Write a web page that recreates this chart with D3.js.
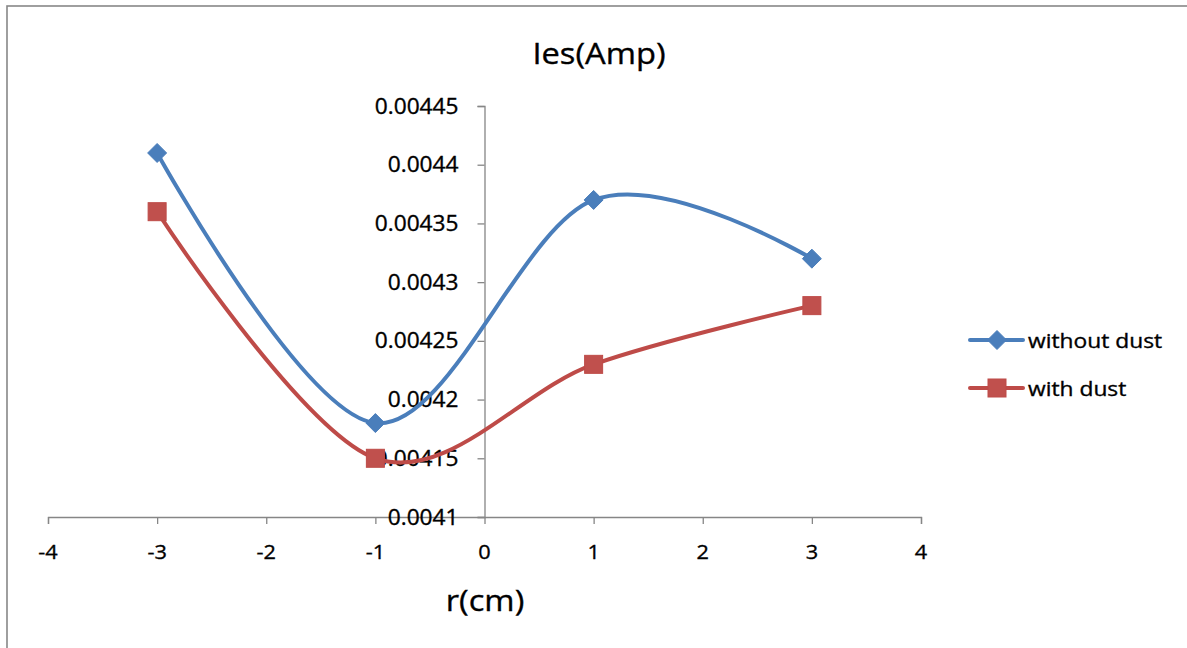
<!DOCTYPE html>
<html>
<head>
<meta charset="utf-8">
<script src="https://cdn.jsdelivr.net/npm/d3@7/dist/d3.min.js"></script>
<style>
  html, body { margin: 0; padding: 0; background: #fff; }
  svg { display: block; }
  text { font-family: "Open Sans", sans-serif; fill: #000; stroke: #000; stroke-width: 0.35px; }
</style>
</head>
<body>
<svg id="chart" width="1187" height="648"></svg>
<script>
// ---- data ----
const xValues = [-3, -1, 1, 3];
const withoutDust = [0.00441, 0.00418, 0.00437, 0.00432];
const withDust = [0.00436, 0.00415, 0.00423, 0.00428];
const seriesNames = ["without dust", "with dust"];
const xTicks = [-4, -3, -2, -1, 0, 1, 2, 3, 4];
const yTicks = [0.0041, 0.00415, 0.0042, 0.00425, 0.0043, 0.00435, 0.0044, 0.00445];
const yTickLabels = ["0.0041", "0.00415", "0.0042", "0.00425", "0.0043", "0.00435", "0.0044", "0.00445"];
const chartTitle = "Ies(Amp)";
const xTitle = "r(cm)";

// ---- layout ----
const svg = d3.select("#chart");
const x = d3.scaleLinear().domain([-4, 4]).range([48, 921]);
const y = d3.scaleLinear().domain([0.0041, 0.00445]).range([517, 106]);
const axisColor = "#868686";
const colors = { line: ["#4A7EBB", "#BE4B48"], fill: ["#4A7EBB", "#C0504D"] };

// outer border (left and top visible)
svg.append("rect").attr("x", 7).attr("y", 6).attr("width", 1300).attr("height", 800)
  .attr("fill", "none").attr("stroke", "#878787").attr("stroke-width", 1.6);

function stretchedText(g, tx, ty, str, size, sx, anchor) {
  return g.append("text")
    .attr("transform", `translate(${tx},${ty}) scale(${sx},1)`)
    .attr("text-anchor", anchor || "middle")
    .style("font-size", size + "px")
    .text(str);
}

// X axis at y = 0.0041
const xAxisG = svg.append("g").attr("transform", `translate(0,${y(0.0041)})`)
  .call(d3.axisBottom(x).tickValues(xTicks).tickSize(7).tickFormat(""));
// Y axis at x = 0
const yAxisG = svg.append("g").attr("transform", `translate(${x(0)},0)`)
  .call(d3.axisLeft(y).tickValues(yTicks).tickSize(7).tickFormat(""));
[xAxisG, yAxisG].forEach(g => {
  g.select(".domain").attr("stroke", axisColor).attr("stroke-width", 1.3);
  g.selectAll(".tick line").attr("stroke", axisColor).attr("stroke-width", 1.3);
});

// tick labels
const labelsG = svg.append("g");
xTicks.forEach(v => stretchedText(labelsG, x(v), 559, String(v), 20.5, 1.06, "middle"));
yTicks.forEach((v, i) => stretchedText(labelsG, x(0) - 26, y(v) + 7.5, yTickLabels[i], 21, 1.08, "end"));

// titles
stretchedText(svg, 599, 64, chartTitle, 30, 1.09, "middle");
stretchedText(svg, 485, 611, xTitle, 30, 1.09, "middle");

// series
const line = d3.line().x(d => x(d[0])).y(d => y(d[1])).curve(d3.curveCatmullRom.alpha(0));
const seriesData = [withoutDust, withDust].map(vals => xValues.map((xv, i) => [xv, vals[i]]));

function drawMarker(g, cx, cy, idx) {
  if (idx === 0) {
    const r = 9.5;
    g.append("path")
      .attr("d", `M${cx},${cy - r}L${cx + r},${cy}L${cx},${cy + r}L${cx - r},${cy}Z`)
      .attr("fill", colors.fill[0]).attr("stroke", colors.line[0]).attr("stroke-width", 1);
  } else {
    g.append("rect").attr("x", cx - 9).attr("y", cy - 9).attr("width", 18).attr("height", 18)
      .attr("fill", colors.fill[1]).attr("stroke", colors.line[1]).attr("stroke-width", 1);
  }
}

seriesData.forEach((data, idx) => {
  const g = svg.append("g");
  g.append("path").datum(data).attr("d", line)
    .attr("fill", "none").attr("stroke", colors.line[idx]).attr("stroke-width", 4)
    .attr("stroke-linecap", "round");
  data.forEach(d => drawMarker(g, x(d[0]), y(d[1]), idx));
});

// legend
const legendY = [340, 388];
seriesNames.forEach((name, idx) => {
  const g = svg.append("g");
  g.append("line").attr("x1", 970).attr("x2", 1023).attr("y1", legendY[idx]).attr("y2", legendY[idx])
    .attr("stroke", colors.line[idx]).attr("stroke-width", 4).attr("stroke-linecap", "round");
  drawMarker(g, 997, legendY[idx], idx);
  stretchedText(g, 1028, legendY[idx] + 7.5, name, 20, 1.14, "start");
});
</script>
</body>
</html>
